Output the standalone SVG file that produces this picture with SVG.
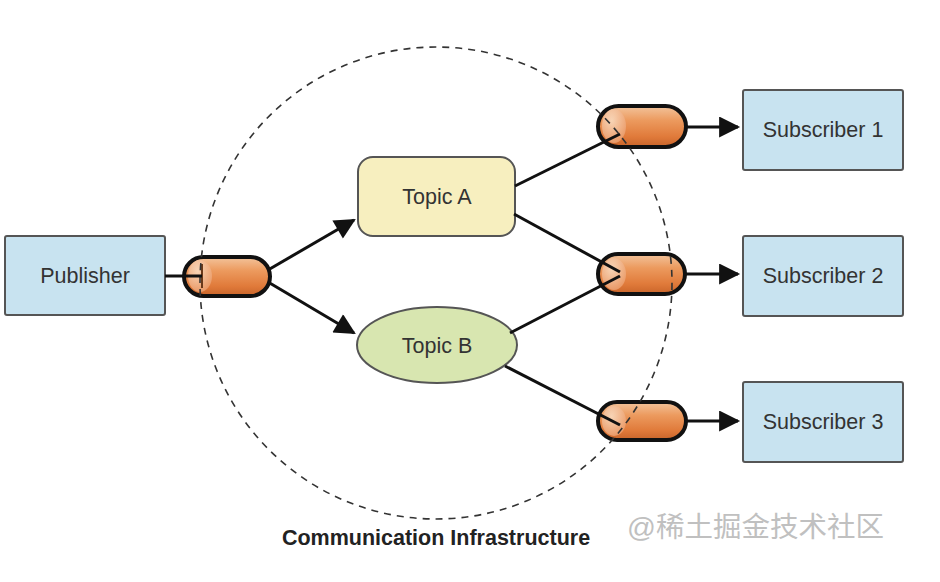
<svg xmlns="http://www.w3.org/2000/svg" width="940" height="582" viewBox="0 0 940 582">
<defs>
<linearGradient id="pipe" x1="0" y1="0" x2="0" y2="1">
<stop offset="0" stop-color="#f3c49c"/>
<stop offset="0.35" stop-color="#ec9a5e"/>
<stop offset="0.75" stop-color="#e07a3a"/>
<stop offset="1" stop-color="#c8642a"/>
</linearGradient>
<radialGradient id="cap" cx="0.4" cy="0.35" r="0.7">
<stop offset="0" stop-color="#fbe3cc"/>
<stop offset="1" stop-color="#eca070"/>
</radialGradient>
<marker id="arr" viewBox="0 0 10 10" refX="9" refY="5" markerWidth="7.5" markerHeight="7" markerUnits="strokeWidth" orient="auto">
<path d="M0,0 L10,5 L0,10 z" fill="#111"/>
</marker>
<style>
.box{fill:#c8e3f0;stroke:#555;stroke-width:2}
.lbl{font-family:"Liberation Sans",Arial,sans-serif;font-size:21.5px;fill:#333;text-anchor:middle;dominant-baseline:central}
.con{stroke:#111;stroke-width:3;fill:none}
.pipe{fill:url(#pipe);stroke:#111;stroke-width:4}
.capl{fill:url(#cap);stroke:none;opacity:0.8}
</style>
</defs>
<rect width="940" height="582" fill="#fff"/>
<g id="publisher">
<rect class="box" x="5" y="236" width="160" height="79" rx="2"/>
<text class="lbl" x="85" y="276">Publisher</text>
</g>
<g id="pipe-pub">
<rect class="pipe" x="184" y="257" width="86" height="39" rx="19.5"/>
<ellipse class="capl" cx="200" cy="276" rx="12" ry="16"/>
<line x1="202" y1="264" x2="202" y2="288" stroke="#6b3a1a" stroke-width="2"/>
</g>
<g id="topic-a">
<rect x="358" y="157" width="157" height="79" rx="15" fill="#f7efbf" stroke="#555" stroke-width="2"/>
<text class="lbl" x="437" y="197">Topic A</text>
</g>
<g id="topic-b">
<ellipse cx="437" cy="345" rx="80" ry="38" fill="#d8e6b0" stroke="#555" stroke-width="2"/>
<text class="lbl" x="437" y="346">Topic B</text>
</g>
<g id="pipe-1">
<rect class="pipe" x="598" y="106" width="88" height="41" rx="20.5"/>
<ellipse class="capl" cx="614" cy="126" rx="12" ry="17"/>
</g>
<g id="pipe-2">
<rect class="pipe" x="598" y="254" width="87" height="40" rx="20"/>
<ellipse class="capl" cx="614" cy="274" rx="12" ry="16"/>
</g>
<g id="pipe-3">
<rect class="pipe" x="598" y="402" width="88" height="38" rx="19"/>
<ellipse class="capl" cx="614" cy="421" rx="12" ry="15"/>
</g>
<g id="subscriber-1">
<rect class="box" x="743" y="90" width="160" height="80" rx="2"/>
<text class="lbl" x="823" y="130">Subscriber 1</text>
</g>
<g id="subscriber-2">
<rect class="box" x="743" y="236" width="160" height="80" rx="2"/>
<text class="lbl" x="823" y="276">Subscriber 2</text>
</g>
<g id="subscriber-3">
<rect class="box" x="743" y="382" width="160" height="80" rx="2"/>
<text class="lbl" x="823" y="422">Subscriber 3</text>
</g>
<g id="infrastructure">
<circle cx="436" cy="283" r="236" fill="none" stroke="#333" stroke-width="1.6" stroke-dasharray="7,6"/>
</g>
<g id="connectors">
<line class="con" x1="165" y1="276" x2="202" y2="276"/>
<line class="con" x1="268" y1="270" x2="354" y2="220" marker-end="url(#arr)"/>
<line class="con" x1="268" y1="282" x2="354" y2="333" marker-end="url(#arr)"/>
<line class="con" x1="515" y1="186" x2="620" y2="134"/>
<line class="con" x1="514" y1="214" x2="620" y2="272"/>
<line class="con" x1="510" y1="333" x2="620" y2="276"/>
<line class="con" x1="505" y1="366" x2="620" y2="425"/>
<line class="con" x1="686" y1="127" x2="738" y2="127" marker-end="url(#arr)"/>
<line class="con" x1="685" y1="274" x2="738" y2="274" marker-end="url(#arr)"/>
<line class="con" x1="686" y1="421" x2="738" y2="421" marker-end="url(#arr)"/>
</g>
<g id="labels">
<text x="436" y="538" font-family="'Liberation Sans',Arial,sans-serif" font-size="21.5" font-weight="bold" fill="#222" text-anchor="middle" dominant-baseline="central">Communication Infrastructure</text>
<text x="627" y="527" font-family="'Liberation Sans','Noto Sans CJK SC',sans-serif" font-size="28.5" fill="#c0c0c0" dominant-baseline="central">@稀土掘金技术社区</text>
</g>
</svg>
